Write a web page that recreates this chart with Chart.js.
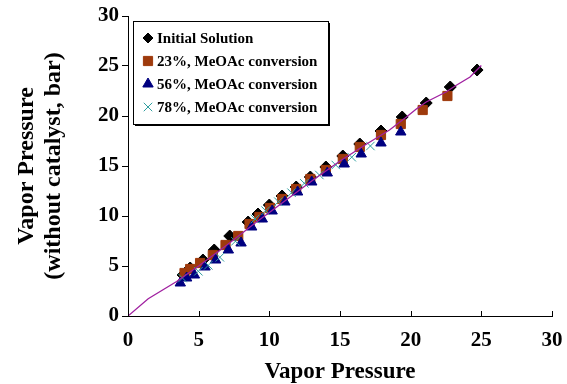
<!DOCTYPE html>
<html>
<head>
<meta charset="utf-8">
<script src="https://cdn.jsdelivr.net/npm/chart.js@4/dist/chart.umd.min.js"></script>
<style>
html,body{margin:0;padding:0;background:#fff;}
#c{display:block;}
</style>
</head>
<body>
<canvas id="c" width="567" height="384"></canvas>
<script>
// ---- data ----
const seriesLabels = ['Initial Solution', '23%, MeOAc conversion', '56%, MeOAc conversion', '78%, MeOAc conversion'];

const initX = [3.9, 4.4, 5.3, 6.1, 7.2, 8.5, 9.2, 10.0, 10.9, 11.9, 12.9, 14.0, 15.2, 16.4, 17.9, 19.4, 21.1, 22.8, 24.7];
const initY = [4.1, 4.8, 5.6, 6.6, 8.0, 9.4, 10.2, 11.1, 12.0, 12.9, 13.9, 14.9, 16.0, 17.2, 18.5, 19.9, 21.3, 22.9, 24.6];

const conv23X = [4.0, 4.4, 5.1, 6.0, 6.9, 7.8, 8.6, 9.3, 10.05, 10.9, 11.9, 12.9, 14.0, 15.2, 16.4, 17.9, 19.3, 20.85, 22.6];
const conv23Y = [4.3, 4.7, 5.3, 6.1, 7.1, 8.0, 9.2, 9.9, 10.8, 11.7, 12.7, 13.7, 14.6, 15.7, 16.9, 18.1, 19.2, 20.6, 22.0];

const conv56X = [3.7, 4.15, 4.7, 5.45, 6.2, 7.1, 8.0, 8.75, 9.5, 10.2, 11.1, 12.0, 13.0, 14.1, 15.3, 16.5, 17.9, 19.3];
const conv56Y = [3.3, 3.8, 4.1, 4.9, 5.6, 6.6, 7.3, 8.9, 9.7, 10.5, 11.4, 12.4, 13.4, 14.3, 15.2, 16.2, 17.3, 18.4];

const conv78X = [3.85, 4.98, 5.68, 6.5, 7.6, 8.99, 9.74, 10.64, 11.57, 12.47, 13.54, 14.7, 15.83, 17.15];
const conv78Y = [3.8, 4.47, 5.07, 5.87, 7.47, 9.7, 10.53, 11.43, 12.33, 13.27, 14.1, 15.1, 15.88, 17.0];

const fitX = [0, 1.43, 3.44, 5.0, 7.0, 9.0, 11.0, 13.0, 15.0, 17.0, 18.5, 19.7, 20.4, 21.1, 22.5, 23.2, 24.2, 25.0];
const fitY = [0, 1.72, 3.45, 5.0, 7.1, 9.3, 11.4, 13.5, 15.5, 17.3, 18.6, 19.9, 20.7, 21.4, 22.4, 23.05, 23.9, 25.05];

const xTicks = [0, 5, 10, 15, 20, 25, 30];
const yTicks = [0, 5, 10, 15, 20, 25, 30];
const xTitle = 'Vapor Pressure';
const yTitle = ['Vapor Pressure', '(without catalyst, bar)'];

const pairs = (xs, ys) => xs.map((x, i) => ({x: x, y: ys[i]}));
const FONT = '"Liberation Serif", "Times New Roman", serif';

const legendBox = {
  id: 'legendBox',
  afterDraw(chart) {
    const ctx = chart.ctx;
    const area = chart.chartArea;
    const left = area.left + 5, top = area.top + 5, w = 195, h = 103;
    ctx.save();
    ctx.fillStyle = '#000';
    ctx.fillRect(left + 2, top + 2, w, h);
    ctx.fillStyle = '#fff';
    ctx.fillRect(left, top, w, h);
    ctx.strokeStyle = '#000';
    ctx.lineWidth = 1;
    ctx.strokeRect(left + 0.5, top + 0.5, w, h);
    ctx.font = 'bold 15px ' + FONT;
    ctx.textBaseline = 'middle';
    ctx.textAlign = 'left';
    for (let i = 0; i < 4; i++) {
      const ds = chart.data.datasets[i];
      const y = top + 17 + i * 23;
      const opts = {pointStyle: ds.pointStyle, radius: ds.legendRadius, borderWidth: ds.borderWidth, rotation: 0};
      ctx.fillStyle = ds.backgroundColor;
      ctx.strokeStyle = ds.borderColor;
      ctx.lineWidth = ds.borderWidth;
      Chart.helpers.drawPoint(ctx, opts, left + 15, y);
      ctx.fillStyle = '#000';
      ctx.fillText(ds.label, left + 24, y + 1);
    }
    ctx.restore();
  }
};

const xTickMarks = {
  id: 'xTickMarks',
  afterDraw(chart) {
    const ctx = chart.ctx;
    const xs = chart.scales.x;
    const area = chart.chartArea;
    ctx.save();
    ctx.strokeStyle = '#000';
    ctx.lineWidth = 1;
    xTicks.forEach(v => {
      const px = Math.round(xs.getPixelForValue(v)) + 0.5;
      ctx.beginPath();
      ctx.moveTo(px, area.bottom + 1);
      ctx.lineTo(px, area.bottom - 5);
      ctx.stroke();
    });
    ctx.restore();
  }
};

new Chart(document.getElementById('c'), {
  type: 'scatter',
  data: {
    datasets: [
      {label: seriesLabels[0], data: pairs(initX, initY), pointStyle: 'rectRot', pointRadius: 6, legendRadius: 5, backgroundColor: '#000', borderColor: '#000', borderWidth: 1, order: 4},
      {label: seriesLabels[1], data: pairs(conv23X, conv23Y), pointStyle: 'rect', pointRadius: 6.5, legendRadius: 6.5, backgroundColor: '#9E3A0C', borderColor: '#9E3A0C', borderWidth: 1, order: 3},
      {label: seriesLabels[2], data: pairs(conv56X, conv56Y), pointStyle: 'triangle', pointRadius: 6, legendRadius: 6, backgroundColor: '#000080', borderColor: '#000080', borderWidth: 1, order: 2},
      {label: seriesLabels[3], data: pairs(conv78X, conv78Y), pointStyle: 'crossRot', pointRadius: 6, legendRadius: 6, backgroundColor: '#2E9E9E', borderColor: '#2E9E9E', borderWidth: 1, order: 1},
      {label: 'fit', data: pairs(fitX, fitY), showLine: true, pointRadius: 0, borderColor: '#A020A0', backgroundColor: '#A020A0', borderWidth: 1.3, tension: 0, order: 0}
    ]
  },
  options: {
    responsive: false,
    animation: false,
    devicePixelRatio: 1,
    layout: {padding: {left: 0, right: 15, top: 16, bottom: 0}},
    plugins: {legend: {display: false}, tooltip: {enabled: false}},
    scales: {
      x: {
        type: 'linear', min: 0, max: 30,
        afterBuildTicks: s => { s.ticks = xTicks.map(v => ({value: v})); },
        afterFit: s => { s.height = 68; },
        grid: {display: false},
        border: {display: true, color: '#000', width: 1},
        ticks: {color: '#000', padding: 4, maxRotation: 0, font: {family: FONT, size: 21, weight: 'bold'}},
        title: {display: true, text: xTitle, color: '#000', padding: {top: 10, bottom: 0}, font: {family: FONT, size: 23, weight: 'bold', lineHeight: 1.05}}
      },
      y: {
        type: 'linear', min: 0, max: 30,
        afterBuildTicks: s => { s.ticks = yTicks.map(v => ({value: v})); },
        afterFit: s => { s.width = 128; },
        grid: {display: true, drawOnChartArea: false, drawTicks: true, tickLength: 6, color: '#000'},
        border: {display: true, color: '#000', width: 1},
        ticks: {color: '#000', padding: 3, font: {family: FONT, size: 21, weight: 'bold'}},
        title: {display: true, text: yTitle, color: '#000', padding: {top: 13, bottom: 0}, font: {family: FONT, size: 24, weight: 'bold', lineHeight: 1.12}}
      }
    }
  },
  plugins: [legendBox, xTickMarks]
});
</script>
</body>
</html>
